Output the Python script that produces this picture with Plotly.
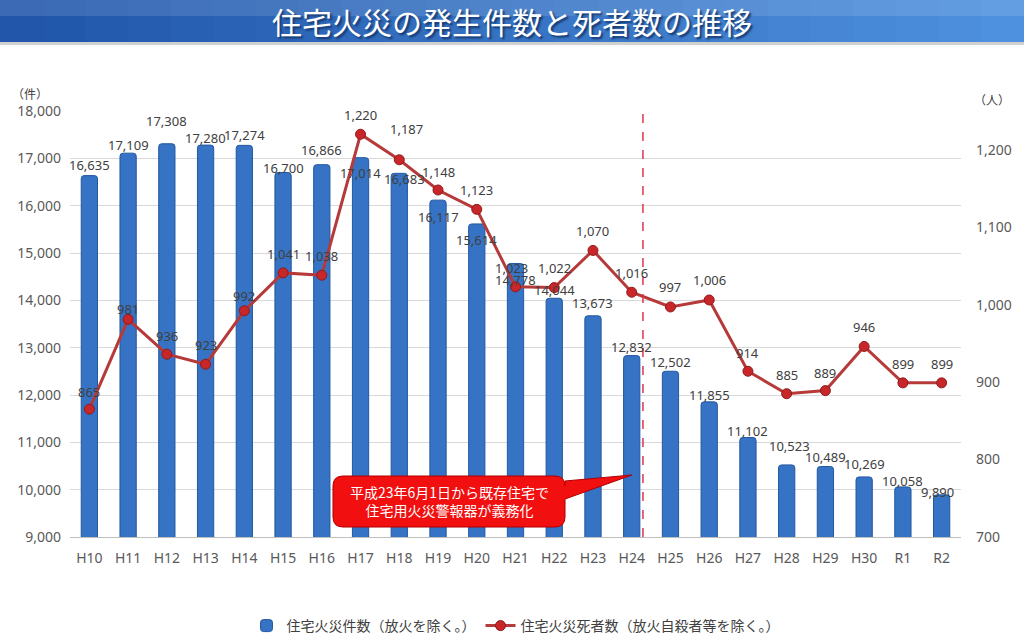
import plotly.graph_objects as go

# 年度（平成10年〜令和2年）
years = ['H10', 'H11', 'H12', 'H13', 'H14', 'H15', 'H16', 'H17', 'H18', 'H19', 'H20', 'H21',
         'H22', 'H23', 'H24', 'H25', 'H26', 'H27', 'H28', 'H29', 'H30', 'R1', 'R2']

# 住宅火災件数（放火を除く。）
fires = [16635, 17109, 17308, 17280, 17274, 16700, 16866, 17014, 16683, 16117, 15614, 14778,
         14044, 13673, 12832, 12502, 11855, 11102, 10523, 10489, 10269, 10058, 9890]

# 住宅火災死者数（放火自殺者等を除く。）
deaths = [865, 981, 936, 923, 992, 1041, 1038, 1220, 1187, 1148, 1123, 1023,
          1022, 1070, 1016, 997, 1006, 914, 885, 889, 946, 899, 899]

# hand-moved data labels in the original (pixel nudges)
fire_dy = [11, 8, 23, 7, 10, 5, 15, -15, -6, -17, -16, -16, 8, 13, 9, 9, 7, 7, 19, 10, 13, 6, 3]
fire_dx = [0, 0, 0, 0, 0, 0, 0, 0, 5, 0, 0, 0, 0, 0, 0, 0, 0, 0, 3, 0, 0, 0, -4]
death_dy = [17, 10, 18, 19, 15, 19, 19, 19, 31, 18, 19, 19, 20, 19, 19, 20, 20, 18, 19, 18, 19, 19, 19]
death_dx = [0, 0, 0, 0, 0, 0, 0, 0, 7, 0, 0, -4, 0, 0, 0, 0, 0, 0, 0, 0, 0, 0, 0]

# plot area in pixels
L, R, T, B = 70, 961, 111, 537
W, H = 1024, 644


def px_x(px):
    return (px - L) / (R - L)


def px_y(py):
    return (B - py) / (B - T)


font_num = 'Noto Sans, Noto Sans CJK JP'
font_jp = 'Noto Sans CJK JP'

fig = go.Figure()

fig.add_trace(go.Bar(
    x=years, y=fires,
    name='住宅火災件数（放火を除く。）',
    width=0.42,
    marker=dict(color='#3673c4', line=dict(color='#23579f', width=1), cornerradius=3),
))

fig.add_trace(go.Scatter(
    x=years, y=deaths,
    name='住宅火災死者数（放火自殺者等を除く。）',
    yaxis='y2',
    mode='lines+markers',
    line=dict(color='#b73a3a', width=3),
    marker=dict(size=10, color='#c9262a', line=dict(color='#8e1b1b', width=1)),
))

annotations = []
for i, yr in enumerate(years):
    annotations.append(dict(
        x=yr, y=fires[i], xref='x', yref='y', text=f'{fires[i]:,}', showarrow=False,
        xanchor='center', yanchor='middle', yshift=fire_dy[i], xshift=fire_dx[i],
        font=dict(family=font_num, size=13, color='#404040'),
    ))
    annotations.append(dict(
        x=yr, y=deaths[i], xref='x', yref='y2', text=f'{deaths[i]:,}', showarrow=False,
        xanchor='center', yanchor='middle', yshift=death_dy[i], xshift=death_dx[i],
        font=dict(family=font_num, size=13, color='#404040'),
    ))

# title banner text
annotations.append(dict(
    x=px_x(512), y=px_y(21), xref='paper', yref='paper', text='住宅火災の発生件数と死者数の推移',
    showarrow=False, xanchor='center', yanchor='middle',
    font=dict(family=font_jp, size=30, color='white', shadow='2px 2px 2px #15386e'),
))

# units
annotations.append(dict(x=px_x(30), y=px_y(93), xref='paper', yref='paper', text='（件）',
                        showarrow=False, xanchor='center', yanchor='middle',
                        font=dict(family=font_jp, size=12, color='#404040')))
annotations.append(dict(x=px_x(992), y=px_y(100), xref='paper', yref='paper', text='（人）',
                        showarrow=False, xanchor='center', yanchor='middle',
                        font=dict(family=font_jp, size=12, color='#404040')))

# callout text
annotations.append(dict(
    x=px_x(449), y=px_y(501), xref='paper', yref='paper',
    text='平成23年6月1日から既存住宅で<br>住宅用火災警報器が義務化',
    showarrow=False, xanchor='center', yanchor='middle',
    font=dict(family=font_jp, size=14, color='white'),
))

shapes = []

# banner gradient strips
n = 24
c0, c1 = (33, 86, 170), (78, 145, 222)
for k in range(n):
    t = k / (n - 1)
    col = tuple(int(c0[j] + (c1[j] - c0[j]) * t) for j in range(3))
    shapes.append(dict(
        type='rect', xref='paper', yref='paper', layer='below',
        x0=px_x(W * k / n), x1=px_x(W * (k + 1) / n + 1), y0=px_y(42), y1=px_y(0),
        fillcolor='rgb(%d,%d,%d)' % col, line=dict(width=0),
    ))
shapes.append(dict(type='rect', xref='paper', yref='paper', x0=px_x(0), x1=px_x(W),
                   y0=px_y(16), y1=px_y(0), fillcolor='rgba(255,255,255,0.12)', line=dict(width=0)))
shapes.append(dict(type='rect', xref='paper', yref='paper', x0=px_x(0), x1=px_x(W),
                   y0=px_y(45), y1=px_y(42), fillcolor='rgba(120,120,120,0.35)', line=dict(width=0)))

# dashed separator between H24 and H25
shapes.append(dict(type='line', xref='x', yref='paper', x0=14.29, x1=14.29, y0=0, y1=1,
                   line=dict(color='#e0344c', width=1.5, dash='dash')))

# callout box with pointer
bl, br, bt, bb, rr = 333, 565, 476, 527, 10
pts = [
    ('M', bl + rr, bt), ('L', br - rr, bt), ('Q', br, bt, br, bt + rr),
    ('L', br, bt + 5), ('L', 632, 475), ('L', br, bt + 23),
    ('L', br, bb - rr), ('Q', br, bb, br - rr, bb),
    ('L', bl + rr, bb), ('Q', bl, bb, bl, bb - rr),
    ('L', bl, bt + rr), ('Q', bl, bt, bl + rr, bt),
]
path = ''
for p in pts:
    cmd = p[0]
    coords = p[1:]
    seg = ' '.join(f'{px_x(coords[j]):.5f},{px_y(coords[j + 1]):.5f}' for j in range(0, len(coords), 2))
    path += f'{cmd} {seg} '
path += 'Z'
shapes.append(dict(type='path', xref='paper', yref='paper', path=path,
                   fillcolor='#f20f0f', line=dict(color='#b00000', width=1)))

fig.update_layout(
    width=W, height=H,
    margin=dict(l=L, r=W - R, t=T, b=H - B),
    paper_bgcolor='white', plot_bgcolor='white',
    showlegend=True,
    legend=dict(orientation='h', x=0.5, xanchor='center',
                yref='container', y=(H - 626) / H, yanchor='middle',
                font=dict(family=font_jp, size=14, color='#404040')),
    xaxis=dict(type='category', range=[-0.5, len(years) - 0.5], showline=True,
               linecolor='#bfbfbf', ticks='',
               tickfont=dict(family=font_num, size=14, color='#595959'), ticklabelstandoff=8),
    yaxis=dict(range=[9000, 18000], dtick=1000, tickformat=',', gridcolor='#d9d9d9',
               zeroline=False, tickfont=dict(family=font_num, size=14, color='#595959'),
               ticklabelstandoff=8),
    yaxis2=dict(range=[700, 1250], dtick=100, tickformat=',', overlaying='y', side='right',
                showgrid=False, zeroline=False,
                tickfont=dict(family=font_num, size=14, color='#595959'), ticklabelstandoff=14),
    annotations=annotations,
    shapes=shapes,
)

fig.write_html('out.html', config={'displayModeBar': False},
               post_script="document.body.style.margin='0';")
